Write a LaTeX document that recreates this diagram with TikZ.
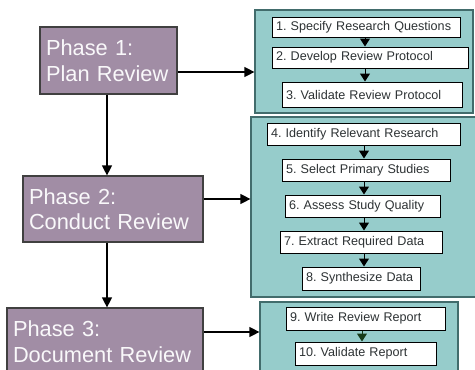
\documentclass[tikz,border=0pt]{standalone}
\usepackage{fontspec}
\setmainfont{Liberation Sans}
\usetikzlibrary{arrows.meta}
\definecolor{phasefill}{RGB}{161,141,165}
\definecolor{panelfill}{RGB}{150,204,203}
\definecolor{paneldraw}{RGB}{66,108,108}
\definecolor{steptext}{RGB}{45,50,52}
\definecolor{tipgreen}{RGB}{22,58,24}
\frenchspacing
\begin{document}
\begin{tikzpicture}[x=1pt,y=-1pt,
  phase/.style={draw=black!75,line width=1.2pt,fill=phasefill,text=white!94!phasefill,
    inner xsep=6pt,inner ysep=0pt,align=left,font=\fontsize{21.8}{25.5}\selectfont},
  panel/.style={draw=paneldraw,line width=1.2pt,fill=panelfill,inner sep=0pt},
  stepbox/.style={draw=black,line width=1pt,fill=white,text=steptext,inner xsep=4pt,
    inner ysep=0pt,align=left,font=\fontsize{12.6}{14}\selectfont},
  tip/.style={line width=1.2pt,-{Triangle[width=10pt,length=10pt]}},
  small tip/.style={line width=1pt,-{Triangle[width=10pt,length=8pt]}}]
  \useasboundingbox (0,0) rectangle (475,370);
  \clip (0,0) rectangle (475,370);
  \fill[white] (0,0) rectangle (475,370);

  % phases
  \node[phase,text width=125pt,minimum height=67pt] (p1) at (108.5,60.5) {Phase 1:\\Plan Review};
  \node[phase,text width=168pt,minimum height=66pt] (p2) at (113,209) {Phase 2:\\Conduct Review};
  \node[phase,text width=184pt,minimum height=67pt] (p3) at (105,341.5) {Phase 3:\\Document Review};

  % panels
  \node[panel,minimum width=218pt,minimum height=103pt] (pan1) at (364,61.5) {};
  \node[panel,minimum width=225pt,minimum height=180pt] (pan2) at (363.5,207) {};
  \node[panel,minimum width=198pt,minimum height=78pt] (pan3) at (359,341) {};

  % steps
  \node[stepbox,text width=180pt,minimum height=20pt] (b1) at (366,27) {1. Specify Research Questions};
  \node[stepbox,text width=188pt,minimum height=21pt] (b2) at (370,57.5) {2. Develop Review Protocol};
  \node[stepbox,text width=172pt,minimum height=25pt] (b3) at (372,94.5) {3. Validate Review Protocol};
  \node[stepbox,text width=185pt,minimum height=22pt] (b4) at (363.5,134) {4. Identify Relevant Research};
  \node[stepbox,text width=160pt,minimum height=22pt] (b5) at (366,170) {5. Select Primary Studies};
  \node[stepbox,text width=147pt,minimum height=22pt] (b6) at (362.5,206) {6. Assess Study Quality};
  \node[stepbox,text width=154pt,minimum height=22pt] (b7) at (361,242) {7. Extract Required Data};
  \node[stepbox,text width=110pt,minimum height=23pt] (b8) at (361,278.5) {8. Synthesize Data};
  \node[stepbox,text width=151pt,minimum height=23pt] (b9) at (365.5,318.5) {9. Write Review Report};
  \node[stepbox,text width=133pt,minimum height=23pt] (b10) at (365.5,353.5) {10. Validate Report};

  % arrow positions
  \coordinate (down) at (107,0);
  \coordinate (col1) at (365,0);
  \coordinate (col2) at (364,0);
  \coordinate (col3) at (362,0);
  \coordinate (h1) at (0,72);
  \coordinate (h2) at (0,199);
  \coordinate (h3) at (0,332);

  \draw[tip] (p1.south -| down) -- (p2.north -| down);
  \draw[tip] (p2.south -| down) -- (p3.north -| down);
  \draw[tip] (p1.east |- h1) -- (pan1.west |- h1);
  \draw[tip] (p2.east |- h2) -- (pan2.west |- h2);
  \draw[tip] (p3.east |- h3) -- (pan3.west |- h3);

  \foreach \a/\b in {b1/b2,b2/b3}
    \draw[small tip] (\a.south -| col1) -- (\b.north -| col1);
  \foreach \a/\b in {b4/b5,b5/b6,b6/b7,b7/b8}
    \draw[small tip] (\a.south -| col2) -- (\b.north -| col2);
  \draw[small tip,tipgreen] (b9.south -| col3) -- (b10.north -| col3);

\end{tikzpicture}
\end{document}
